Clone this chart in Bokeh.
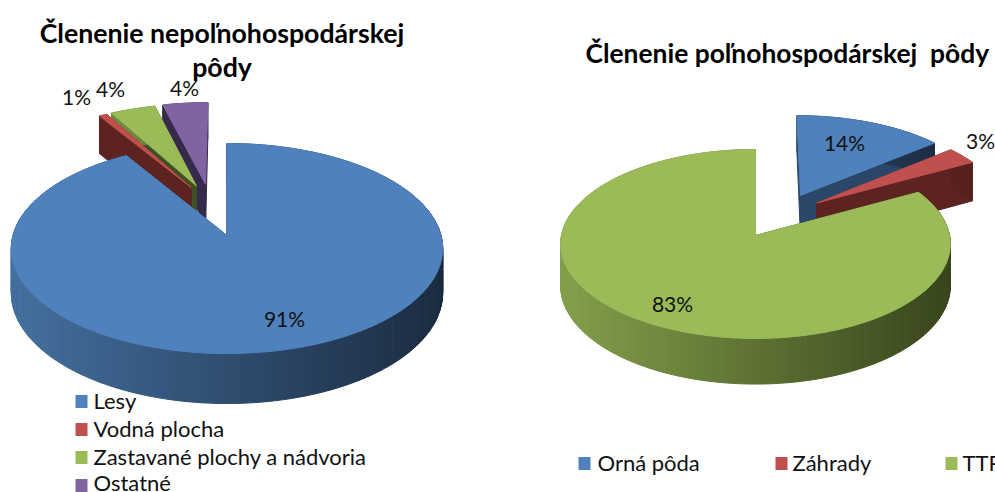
import numpy as np
from bokeh.plotting import figure
from bokeh.models import Range1d
from bokeh.core.properties import value
from bokeh.embed import file_html
from bokeh.resources import INLINE

# ---- data ----
left_title = ["Členenie nepoľnohospodárskej", "pôdy"]
left_categories = ["Lesy", "Vodná plocha", "Zastavané plochy a nádvoria", "Ostatné"]
left_values = [91.3, 0.7, 4, 4]
left_labels = ["91%", "1%", "4%", "4%"]

right_title = "Členenie poľnohospodárskej\u00a0 pôdy"
right_categories = ["Orná pôda", "Záhrady", "TTP"]
right_values = [14, 3, 83]
right_labels = ["14%", "3%", "83%"]

TOP = {"blue": "#4f81bd", "red": "#c0504d", "green": "#9bbb59", "purple": "#8064a2"}
WALL_L = {"blue": "#44709f", "red": "#5e2422", "green": "#84a04c", "purple": "#3a2c4f"}
WALL_R = {"blue": "#1b2b40", "red": "#582220", "green": "#38451c", "purple": "#342846"}
RADIAL = {"blue": "#2a4669", "red": "#5c2320", "green": "#3f5122", "purple": "#362a4c"}

left_colors = ["blue", "red", "green", "purple"]
right_colors = ["blue", "red", "green"]


def hex2rgb(c):
    return np.array([int(c[i:i + 2], 16) for i in (1, 3, 5)], float)


def mix(a, b, t):
    r = hex2rgb(a) * (1 - t) + hex2rgb(b) * t
    return "#%02x%02x%02x" % tuple(int(round(x)) for x in r)


def slices(vals):
    fr = np.cumsum([0] + list(vals)) / float(sum(vals))
    return [(fr[i] * 2 * np.pi, fr[i + 1] * 2 * np.pi) for i in range(len(vals))]


def pie_polys(vals, cols, order, anchor, x0, y0, A, B, k, h, e, span, nudge):
    """Exploded 3D pie under a perspective mapping; anchor = slice whose apex sits at (x0,y0)."""
    sl = slices(vals)

    def off(i):
        a = (sl[i][0] + sl[i][1]) / 2
        b = (sl[anchor][0] + sl[anchor][1]) / 2
        return e * (np.sin(a) - np.sin(b)), e * (np.cos(a) - np.cos(b))

    xs, ys, cs = [], [], []

    def add(px, py, c):
        xs.append(list(px)); ys.append(list(py)); cs.append(c)

    for i in order:
        c = cols[i]
        dx = nudge[i]

        def proj(u, v, z=0.0):
            w = 1 + k * v
            return x0 + dx + A * u / w, y0 - B * v / w + z * h / w

        u0, v0 = off(i)
        a0, a1 = sl[i]
        n = max(3, int(np.degrees(a1 - a0)))
        th = np.linspace(a0, a1, n + 1)
        ru, rv = u0 + np.sin(th), v0 + np.cos(th)
        # radial side faces
        for idx in (0, -1):
            p = [proj(u0, v0), proj(ru[idx], rv[idx]), proj(ru[idx], rv[idx], 1), proj(u0, v0, 1)]
            add([q[0] for q in p], [q[1] for q in p], RADIAL[c])
        # outer wall, shaded from left to right
        for j in range(n):
            p = [proj(ru[j], rv[j]), proj(ru[j + 1], rv[j + 1]),
                 proj(ru[j + 1], rv[j + 1], 1), proj(ru[j], rv[j], 1)]
            t = np.clip((p[0][0] - span[0]) / (span[1] - span[0]), 0, 1)
            col = mix(WALL_L[c], WALL_R[c], t)
            add([q[0] for q in p], [q[1] for q in p], col)
        # top face
        pts = [proj(u0, v0)] + [proj(a, b) for a, b in zip(ru, rv)]
        add([q[0] for q in pts], [q[1] for q in pts], TOP[c])
    return xs, ys, cs


p = figure(width=995, height=492, x_range=Range1d(0, 995), y_range=Range1d(492, 0),
           output_backend="svg", toolbar_location=None, min_border=0,
           x_axis_location=None, y_axis_location=None, outline_line_color=None)
p.grid.visible = False

for args in (
    (left_values, left_colors, [3, 2, 1, 0], 0, 226.5, 235, 214, 103.4, 0.124, 43.8, 0.27, (12, 443), [0, 6, 4, 0]),
    (right_values, right_colors, [0, 1, 2], 2, 755, 235, 194, 93.7, 0.09, 41.5, 0.252, (559, 950), [1, -2, 0]),
):
    xs, ys, cs = pie_polys(*args)
    p.patches(xs, ys, fill_color=cs, line_color=cs, line_width=1.0)

FONT = value("Lato")
TXT = "#111111"


def txt(x, y, s, size, bold=False, align="left"):
    p.text([x], [y], text=[s], text_font=FONT, text_font_size=f"{size}px",
           text_font_style="bold" if bold else "normal", text_color=TXT if not bold else "#000000",
           text_align=align, text_baseline="middle")


txt(221.5, 32, left_title[0], 26.7, True, "center")
txt(221.5, 66, left_title[1], 26.7, True, "center")
txt(585, 52, right_title, 26.4, True, "left")

for (x, y), s in zip([(284, 318), (76, 96), (110, 88), (184, 87)], left_labels):
    txt(x, y, s, 21, align="center")
for (x, y), s in zip([(844, 142), (980, 140), (672, 303)], right_labels):
    txt(x, y, s, 21, align="center")

for y, ty, name, c in zip([401, 429, 457, 485], [400, 428, 456, 481.5], left_categories, left_colors):
    p.rect([81], [y], width=12, height=13, fill_color=TOP[c], line_color=None)
    txt(93, ty, name, 22)
for (sx, tx), name, c in zip([(584, 597), (781, 792), (951, 962)], right_categories, right_colors):
    p.rect([sx], [463], width=12, height=13, fill_color=TOP[c], line_color=None)
    txt(tx, 462, name, 22)

open("out.html", "w").write(file_html(p, INLINE))
